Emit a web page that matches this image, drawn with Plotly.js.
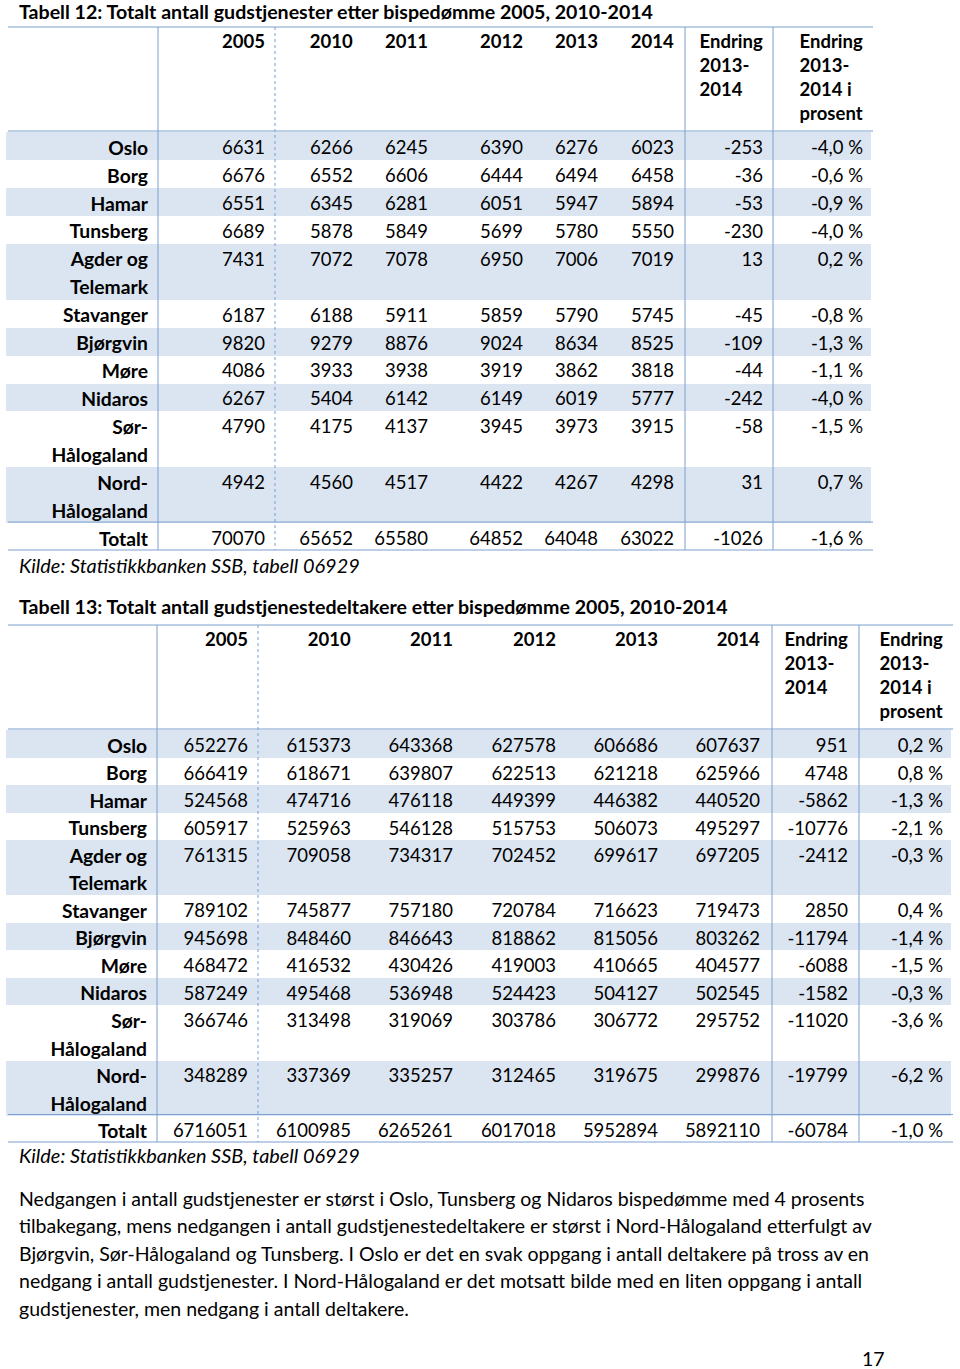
<!DOCTYPE html>
<html><head><meta charset="utf-8">
<script src="https://cdn.plot.ly/plotly-3.0.1.min.js"></script>
<style>html,body{margin:0;padding:0;background:#fff}</style>
</head><body><div id="chart" style="width:960px;height:1369px"></div>
<script>
const W = 960, H = 1369;

// ---- data ----
const dioceses = ['Oslo','Borg','Hamar','Tunsberg','Agder og|Telemark','Stavanger','Bjørgvin','Møre','Nidaros','Sør-|Hålogaland','Nord-|Hålogaland','Totalt'];
const years = ['2005','2010','2011','2012','2013','2014'];
const changeHeader = 'Endring<br>2013-<br>2014';
const pctHeader = 'Endring<br>2013-<br>2014 i<br>prosent';

const s2005 = [6631,6676,6551,6689,7431,6187,9820,4086,6267,4790,4942,70070];
const s2010 = [6266,6552,6345,5878,7072,6188,9279,3933,5404,4175,4560,65652];
const s2011 = [6245,6606,6281,5849,7078,5911,8876,3938,6142,4137,4517,65580];
const s2012 = [6390,6444,6051,5699,6950,5859,9024,3919,6149,3945,4422,64852];
const s2013 = [6276,6494,5947,5780,7006,5790,8634,3862,6019,3973,4267,64048];
const s2014 = [6023,6458,5894,5550,7019,5745,8525,3818,5777,3915,4298,63022];
const sChange = [-253,-36,-53,-230,13,-45,-109,-44,-242,-58,31,-1026];
const sPct = [-4.0,-0.6,-0.9,-4.0,0.2,-0.8,-1.3,-1.1,-4.0,-1.5,0.7,-1.6];

const p2005 = [652276,666419,524568,605917,761315,789102,945698,468472,587249,366746,348289,6716051];
const p2010 = [615373,618671,474716,525963,709058,745877,848460,416532,495468,313498,337369,6100985];
const p2011 = [643368,639807,476118,546128,734317,757180,846643,430426,536948,319069,335257,6265261];
const p2012 = [627578,622513,449399,515753,702452,720784,818862,419003,524423,303786,312465,6017018];
const p2013 = [606686,621218,446382,506073,699617,716623,815056,410665,504127,306772,319675,5952894];
const p2014 = [607637,625966,440520,495297,697205,719473,803262,404577,502545,295752,299876,5892110];
const pChange = [951,4748,-5862,-10776,-2412,2850,-11794,-6088,-1582,-11020,-19799,-60784];
const pPct = [0.2,0.8,-1.3,-2.1,-0.3,0.4,-1.4,-1.5,-0.3,-3.6,-6.2,-1.0];

const title12 = 'Tabell 12: Totalt antall gudstjenester etter bispedømme 2005, 2010-2014';
const title13 = 'Tabell 13: Totalt antall gudstjenestedeltakere etter bispedømme 2005, 2010-2014';
const source = 'Kilde: Statistikkbanken SSB, tabell 06929';
const paragraph = [
  'Nedgangen i antall gudstjenester er størst i Oslo, Tunsberg og Nidaros bispedømme med 4 prosents',
  'tilbakegang, mens nedgangen i antall gudstjenestedeltakere er størst i Nord-Hålogaland etterfulgt av',
  'Bjørgvin, Sør-Hålogaland og Tunsberg. I Oslo er det en svak oppgang i antall deltakere på tross av en',
  'nedgang i antall gudstjenester. I Nord-Hålogaland er det motsatt bilde med en liten oppgang i antall',
  'gudstjenester, men nedgang i antall deltakere.'
];
const pageNo = '17';

// ---- style ----
const FONT = 'Lato, "Open Sans", sans-serif';
const FS = 18.5, FS_LABEL = 19.3;
const FILL = '#DBE5F1', LINE = '#7BA0CD', INK = '#000000';
const NB = '\u00a0';
const HEADER_H = 109;   // rendered height of the 4-line header

const fmtPct = v => v.toFixed(1).replace('.', ',') + NB + '%';
const bold = s => '<b>' + s + '</b>';

// Builds a table trace; each visual text line of a label becomes its own table line.
function makeTable(series, pct, widths, x0, x1, bodyTop, bodyBottom) {
  const labelCol = [], dataCols = series.map(() => []), pctCol = [], fills = [];
  dioceses.forEach((name, i) => {
    const parts = name.split('|');
    parts.forEach((part, k) => {
      labelCol.push(part.replace(/ /g, NB));
      series.forEach((s, j) => dataCols[j].push(k === 0 ? String(s[i]) : ''));
      pctCol.push(k === 0 ? fmtPct(pct[i]) : '');
      fills.push(i % 2 === 0 ? FILL : '#ffffff');
    });
  });
  const nLines = labelCol.length;
  const rowH = (bodyBottom - bodyTop) / nLines;
  const cols = [labelCol].concat(dataCols, [pctCol]);
  const trace = {
    type: 'table',
    domain: {x: [x0 / W, x1 / W], y: [Math.max(0, 1 - (bodyBottom + 40) / H), 1 - (bodyTop - HEADER_H) / H]},
    columnwidth: widths,
    header: {
      values: [''].concat(years.map(bold), [changeHeader, pctHeader]),
      align: 'right', height: 26,
      fill: {color: '#ffffff'}, line: {width: 0, color: 'rgba(0,0,0,0)'},
      font: {family: FONT, size: FS, color: INK, weight: 'bold'}
    },
    cells: {
      values: cols, align: 'right', height: rowH,
      fill: {color: cols.map(() => fills)},
      line: {width: 0, color: 'rgba(0,0,0,0)'},
      font: {family: FONT, color: INK,
             size: cols.map((_, j) => j === 0 ? FS_LABEL : FS),
             weight: cols.map((_, j) => j === 0 ? 'bold' : 'normal')}
    }
  };
  return {trace: trace, rowH: rowH, nLines: nLines};
}

const T12 = {x0: 8, x1: 873, top: 27, bodyTop: 131, bodyBottom: 550, solid: [158, 685, 773], dotted: [275]};
const T13 = {x0: 8, x1: 953, top: 625, bodyTop: 729, bodyBottom: 1142, solid: [157, 772, 859], dotted: [258]};

const t12 = makeTable([s2005,s2010,s2011,s2012,s2013,s2014,sChange], sPct,
  [150,117,88,75,95,75,76,89,100], T12.x0 - 2, T12.x1 - 2, T12.bodyTop, T12.bodyBottom);
const t13 = makeTable([p2005,p2010,p2011,p2012,p2013,p2014,pChange], pPct,
  [149,101,103,102,103,102,102,88,95], T13.x0 - 2, T13.x1 - 2, T13.bodyTop, T13.bodyBottom);

// ---- borders (layout decoration) ----
const shapes = [];
function hline(y, x0, x1) { shapes.push({type:'line', xref:'paper', yref:'paper', x0:x0/W, x1:x1/W, y0:1-y/H, y1:1-y/H, line:{color:LINE, width:1}}); }
function vline(x, y0, y1, dash) { shapes.push({type:'line', xref:'paper', yref:'paper', x0:x/W, x1:x/W, y0:1-y0/H, y1:1-y1/H, line:{color:LINE, width:1, dash: dash || 'solid'}}); }
[[T12, t12], [T13, t13]].forEach(([T, t]) => {
  const totalTop = T.bodyBottom - t.rowH;
  [T.top, T.bodyTop, totalTop, T.bodyBottom].forEach(y => hline(y, T.x0, T.x1));
  T.solid.forEach(x => vline(x, T.top, T.bodyBottom));
  T.dotted.forEach(x => vline(x, T.top, T.bodyBottom, 'dot'));
});

const ann = [];
function text(s, x, y, size, opts) {
  ann.push(Object.assign({text:s, xref:'paper', yref:'paper', x:x/W, y:1-y/H, xanchor:'left', yanchor:'middle', showarrow:false, borderpad:0,
    font:{family:FONT, size:size, color:INK}}, opts || {}));
}
text(bold(title12), 18, 11.5, 19.6);
text('<i>' + source + '</i>', 18, 565, 19.9);
text(bold(title13), 18, 606, 19.6);
text('<i>' + source + '</i>', 18, 1155, 19.9);
paragraph.forEach((line, i) => text(line, 18, 1198 + i * 27.6, 19.5));
text(pageNo, 873, 1358, 19.5, {xanchor:'center'});

Plotly.newPlot('chart', [t12.trace, t13.trace], {
  width: W, height: H, margin: {l:0, r:0, t:0, b:0},
  paper_bgcolor: '#ffffff', plot_bgcolor: '#ffffff',
  shapes: shapes, annotations: ann, showlegend: false
}, {displayModeBar: false, staticPlot: true});
</script></body></html>
